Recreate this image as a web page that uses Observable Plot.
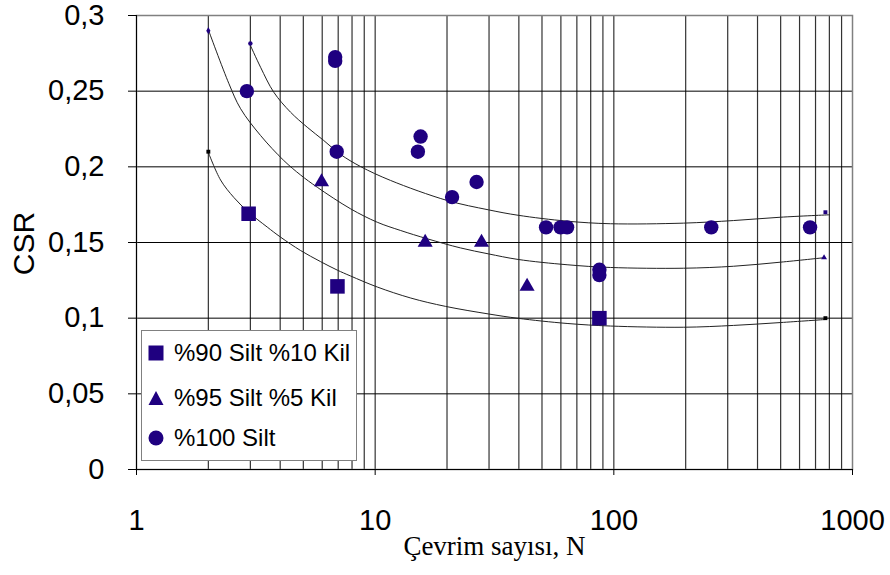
<!DOCTYPE html>
<html><head><meta charset="utf-8">
<script src="https://cdn.jsdelivr.net/npm/d3@7"></script>
<script src="https://cdn.jsdelivr.net/npm/@observablehq/plot@0.6"></script>
<style>
body{margin:0;background:#fff;}
#wrap{position:relative;width:890px;height:575px;}
#legend{position:absolute;left:141px;top:330px;width:214px;height:129px;border:1px solid #808080;background:#fff;font-family:"Liberation Sans",Arial,sans-serif;font-size:24px;color:#000;}
.item{position:absolute;left:6px;height:30px;display:flex;align-items:center;white-space:nowrap;}
.item svg{margin-right:10px;}
</style></head><body><div id="wrap"><div id="legend"></div></div>
<script>
// Data: %90 Silt %10 Kil (squares)
const squareN = [2.95, 6.95, 87];
const squareCSR = [0.169, 0.121, 0.1];
// %95 Silt %5 Kil (triangles)
const triangleN = [5.96, 16.2, 27.9, 43.3];
const triangleCSR = [0.19, 0.15, 0.15, 0.121];
// %100 Silt (circles)
const circleN = [2.9, 6.8, 6.8, 6.9, 15.1, 15.5, 21.0, 26.6, 52, 59.8, 63.7, 87, 87, 256, 664];
const circleCSR = [0.25, 0.2725, 0.27, 0.21, 0.21, 0.22, 0.18, 0.19, 0.16, 0.16, 0.16, 0.132, 0.1285, 0.16, 0.16];

// Trend curves
const topCurveN = [2.98, 3.31, 3.76, 4.42, 5.19, 6.09, 7.16, 8.68, 11.6, 20.0, 29.8, 39.7, 63.7, 96.8, 196, 317, 499, 800];
const topCurveCSR = [0.2813, 0.2658, 0.2493, 0.2361, 0.2262, 0.2174, 0.2082, 0.2002, 0.191, 0.1778, 0.1716, 0.168, 0.1641, 0.1624, 0.1628, 0.1645, 0.1667, 0.1683];
const midCurveN = [2.0, 2.44, 2.73, 3.31, 4.14, 4.87, 5.72, 7.88, 10.2, 12.8, 16.5, 22.8, 29.8, 39.7, 63.7, 96.8, 196, 317, 499, 755];
const midCurveCSR = [0.2906, 0.2549, 0.2384, 0.2207, 0.2042, 0.1946, 0.1865, 0.1723, 0.1634, 0.1579, 0.1525, 0.1464, 0.1425, 0.1388, 0.1353, 0.1335, 0.133, 0.1343, 0.137, 0.1399];
const lowCurveN = [2.0, 2.25, 2.56, 2.95, 3.53, 4.01, 4.87, 5.9, 6.93, 7.88, 10.2, 14.1, 19.7, 29.8, 39.7, 63.7, 96.8, 196, 317, 499, 767];
const lowCurveCSR = [0.2095, 0.1913, 0.1797, 0.17, 0.1602, 0.1536, 0.1447, 0.1374, 0.1318, 0.1279, 0.1206, 0.1133, 0.1078, 0.1028, 0.0999, 0.0965, 0.0948, 0.094, 0.0952, 0.0971, 0.0991];

// Small end markers of curves
const endN = [3.0, 2.0, 2.0, 770, 760, 770];
const endCSR = [0.2815, 0.29, 0.21, 0.17, 0.14, 0.1];
const endSymbol = ["circle", "diamond", "square", "square", "triangle", "square"];
const endColor = ["#1f0080", "#1f0080", "#000", "#1f0080", "#1f0080", "#000"];

// Axes
const xTicks = [1, 10, 100, 1000];
const xGrid = [2,3,4,5,6,7,8,9,10,20,30,40,50,60,70,80,90,100,200,300,400,500,600,700,800,900];
const yTicks = [0, 0.05, 0.1, 0.15, 0.2, 0.25, 0.3];
const yTickLabels = ["0", "0,05", "0,1", "0,15", "0,2", "0,25", "0,3"];

const seriesNames = ["%90 Silt %10 Kil", "%95 Silt %5 Kil", "%100 Silt"];
const navy = "#1f0080";

const pts = (xs, ys) => xs.map((x, i) => ({x, y: ys[i]}));
const sq = pts(squareN, squareCSR);
const tr = pts(triangleN, triangleCSR);
const ci = pts(circleN, circleCSR);
const ends = endN.map((x, i) => ({x, y: endCSR[i], s: endSymbol[i], c: endColor[i]}));

const chart = Plot.plot({
  width: 890, height: 575,
  marginLeft: 136, marginRight: 38, marginTop: 15, marginBottom: 106,
  style: {fontFamily: '"Liberation Sans", Arial, sans-serif', fontSize: "29px", color: "#000", background: "#fff"},
  x: {type: "log", domain: [1, 1000]},
  y: {domain: [0, 0.3]},
  marks: [
    Plot.ruleX(xGrid, {stroke: "#333", strokeWidth: 1.2}),
    Plot.ruleY(yTicks.filter(d => d > 0 && d < 0.3), {stroke: "#000", strokeWidth: 1}),
    Plot.frame({stroke: "#808080", strokeWidth: 1.5}),
    Plot.ruleY([0], {stroke: "#000"}),
    Plot.ruleX([1], {stroke: "#000"}),
    Plot.axisY({ticks: yTicks, tickSize: 8, tickPadding: 24, tickFormat: d => yTickLabels[yTicks.indexOf(d)], label: null}),
    Plot.axisX({ticks: xTicks, tickSize: 6, tickPadding: 34, tickFormat: d => String(d), label: null}),
    Plot.line(pts(topCurveN, topCurveCSR), {x: "x", y: "y", curve: "catmull-rom", stroke: "#222", strokeWidth: 1}),
    Plot.line(pts(midCurveN, midCurveCSR), {x: "x", y: "y", curve: "catmull-rom", stroke: "#222", strokeWidth: 1}),
    Plot.line(pts(lowCurveN, lowCurveCSR), {x: "x", y: "y", curve: "catmull-rom", stroke: "#222", strokeWidth: 1}),
    Plot.dot(ends, {x: "x", y: "y", symbol: "s", fill: "c", r: 2.2, stroke: null}),
    Plot.dot(sq, {x: "x", y: "y", symbol: "square", fill: navy, r: 8.2}),
    Plot.dot(tr, {x: "x", y: "y", symbol: "triangle", fill: navy, r: 5.6}),
    Plot.dot(ci, {x: "x", y: "y", symbol: "circle", fill: navy, r: 7.2}),
    Plot.text(["CSR"], {text: d => d, frameAnchor: "left", textAnchor: "middle", dx: -112, dy: 1, rotate: -90, fontSize: 30}),
    Plot.text(["Çevrim sayısı, N"], {text: d => d, frameAnchor: "bottom", dy: 85, fontFamily: '"Liberation Serif", "Times New Roman", serif', fontSize: 27})
  ]
});
const wrap = document.getElementById("wrap");
wrap.insertBefore(chart, wrap.firstChild);

// Legend
const legend = document.getElementById("legend");
const icons = [
  '<svg width="16" height="16"><rect x="0.5" y="0.5" width="15" height="15" fill="' + navy + '"/></svg>',
  '<svg width="16" height="16"><polygon points="8,1 15.5,15 0.5,15" fill="' + navy + '"/></svg>',
  '<svg width="16" height="16"><circle cx="8" cy="8" r="7.5" fill="' + navy + '"/></svg>'
];
const itemTops = [7, 52, 92];
seriesNames.forEach((name, i) => {
  const div = document.createElement("div");
  div.className = "item";
  div.style.top = itemTops[i] + "px";
  div.innerHTML = icons[i] + "<span>" + name + "</span>";
  legend.appendChild(div);
});
</script>
</body></html>
